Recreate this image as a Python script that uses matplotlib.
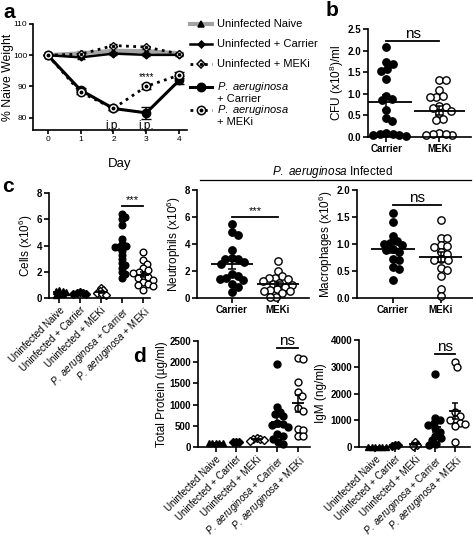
import numpy as np
import matplotlib
matplotlib.use("Agg")
import matplotlib.pyplot as plt
from matplotlib.lines import Line2D

plt.rcParams['font.family'] = ['Liberation Sans', 'DejaVu Sans']
plt.rcParams['mathtext.fontset'] = 'custom'
plt.rcParams['mathtext.rm'] = 'Liberation Sans'
plt.rcParams['mathtext.it'] = 'Liberation Sans:italic'
plt.rcParams['mathtext.bf'] = 'Liberation Sans:bold'

# ---- panel a: weight over time
days = [0, 1, 2, 3, 4]
naive_w = [100, 100.6, 101.4, 101.3, 100.6]
naive_err = [0, 0.9, 0.5, 0.5, 0.3]
carrier_w = [100, 99.3, 100.5, 100.1, 100.1]
carrier_err = [0, 0.5, 0.5, 0.5, 0.3]
meki_w = [100, 100.3, 103.1, 102.6, 100.4]
meki_err = [0, 0.3, 0.5, 0.5, 0.3]
pa_carrier_w = [100, 88.8, 82.9, 81.5, 91.9]
pa_carrier_err = [0, 0.6, 0.5, 1.9, 1.3]
pa_meki_w = [100, 88.1, 82.9, 90.0, 93.6]
pa_meki_err = [0, 0.6, 0.5, 0.9, 1.0]
legend_labels = ["Uninfected Naive", "Uninfected + Carrier", "Uninfected + MEKi",
                 ["$\\it{P.\\ aeruginosa}$", "+ Carrier"],
                 ["$\\it{P.\\ aeruginosa}$", "+ MEKi"]]

# ---- panel b: CFU
cfu_carrier = [2.08, 1.73, 1.68, 1.58, 1.52, 1.35, 0.96, 0.88, 0.85, 0.62, 0.45, 0.37,
               0.1, 0.06, 0.05, 0.04, 0.08, 0.03]
cfu_meki = [1.32, 1.32, 1.08, 0.93, 0.93, 0.95, 0.72, 0.7, 0.68, 0.6, 0.55, 0.42, 0.4,
            0.1, 0.06, 0.05, 0.05, 0.08]

# ---- panel c
cells_naive = [0.62, 0.55, 0.5, 0.45, 0.35, 0.3, 0.2]
cells_carrier = [0.45, 0.4, 0.35, 0.3, 0.3]
cells_meki = [0.8, 0.62, 0.5, 0.4, 0.3, 0.25]
cells_pa_carrier = [6.4, 6.2, 6.0, 5.6, 4.5, 4.1, 4.0, 3.9, 3.9, 3.6, 3.3, 3.0, 2.7, 2.5,
                    2.3, 2.0, 1.8, 1.5]
cells_pa_meki = [3.5, 2.9, 2.6, 2.3, 2.1, 2.0, 1.9, 1.7, 1.6, 1.5, 1.4, 1.2, 1.1, 1.0,
                 0.9, 0.6]
neut_carrier = [5.45, 4.9, 4.65, 3.55, 2.95, 2.9, 2.9, 2.65, 2.55, 1.75, 1.65, 1.45, 1.4,
                1.3, 1.05, 0.8, 0.45]
neut_meki = [2.75, 2.0, 1.6, 1.5, 1.45, 1.4, 1.25, 1.1, 1.05, 1.0, 0.8, 0.65, 0.6, 0.55,
             0.5, 0.35, 0.1, 0.05]
mac_carrier = [1.57, 1.4, 1.15, 1.05, 1.02, 1.0, 0.98, 0.9, 0.88, 0.85, 0.72, 0.7, 0.58,
               0.53, 0.34]
mac_meki = [1.45, 1.12, 1.12, 0.98, 0.97, 0.95, 0.85, 0.82, 0.72, 0.7, 0.7, 0.55, 0.52,
            0.4, 0.17, 0.03]

# ---- panel d
prot_naive = [100, 95, 90, 100, 105]
prot_carrier = [120, 118, 125]
prot_meki = [220, 200, 180, 160, 150]
prot_pa_carrier = [1960, 940, 830, 780, 720, 560, 540, 520, 470, 300, 250, 200, 120, 80]
prot_pa_meki = [2100, 2080, 1530, 1300, 1200, 920, 850, 430, 400, 270, 260]
igm_naive = [10, 5, 0, 8, 12, 3]
igm_carrier = [60, 50, 70]
igm_meki = [200, 80, 50]
igm_pa_carrier = [2720, 1100, 1000, 900, 820, 700, 560, 420, 350, 250, 120, 60]
igm_pa_meki = [3180, 2980, 1300, 1170, 1030, 1000, 900, 860, 800, 190]

group_labels = ["Uninfected Naive", "Uninfected + Carrier", "Uninfected + MEKi",
                r"$\it{P.\ aeruginosa}$ + Carrier", r"$\it{P.\ aeruginosa}$ + MEKi"]
pair_labels = ["Carrier", "MEKi"]

W, H = 473, 544
fig = plt.figure(figsize=(W / 100, H / 100), dpi=100)


def rect(x0, y0, x1, y1):
    return [x0 / W, 1 - y1 / H, (x1 - x0) / W, (y1 - y0) / H]


def prism(ax, bold=True):
    for s in ['top', 'right']:
        ax.spines[s].set_visible(False)
    for s in ['left', 'bottom']:
        ax.spines[s].set_linewidth(1.2)
    ax.tick_params(width=1.2, length=3.5, labelsize=7, pad=1.5)
    if bold:
        for t in ax.get_yticklabels():
            t.set_fontweight('bold')


def swarm(ax, x0, vals, d_px):
    vals = np.asarray(vals, float)
    pts = ax.transData.transform(np.column_stack([np.full(len(vals), x0), vals]))
    ys = pts[:, 1]
    xc = pts[0, 0]
    order = np.argsort(-vals)
    placed = []
    offs = np.zeros(len(vals))
    for i in order:
        best = None
        k = 0
        while best is None:
            cands = [0.0] if k == 0 else [k * 0.5, -k * 0.5]
            for s in cands:
                if all((s - px) ** 2 + (ys[i] - py) ** 2 >= d_px ** 2 for px, py in placed):
                    best = s
                    break
            k += 1
        placed.append((best, ys[i]))
        offs[i] = best
    back = ax.transData.inverted().transform(np.column_stack([xc + offs, ys]))
    return back[:, 0]


def group(ax, x0, vals, marker, filled, ms, d_px, half=0.27, cap=2.5):
    xs = swarm(ax, x0, vals, d_px)
    ax.plot(xs, vals, ls='none', marker=marker, ms=ms, mec='k', mew=1.0,
            mfc='k' if filled else 'white', zorder=2, clip_on=False)
    m = np.mean(vals)
    sem = np.std(vals, ddof=1) / np.sqrt(len(vals))
    ax.hlines(m, x0 - half, x0 + half, color='k', lw=1.3, zorder=3)
    ax.errorbar(x0, m, yerr=sem, fmt='none', ecolor='k', elinewidth=1.1,
                capsize=cap, capthick=1.1, zorder=3)


def sig(ax, x1, x2, y, text, dy, fs):
    ax.plot([x1, x2], [y, y], color='k', lw=1.3, clip_on=False)
    ax.text((x1 + x2) / 2, y + dy, text, ha='center', va='bottom', fontsize=fs)


# ================= a
ax = fig.add_axes(rect(33, 24, 187, 130))
ax.set_xlim(-0.45, 4.24)
ax.set_ylim(76, 110)
prism(ax, bold=False)
ax.set_yticks([80, 90, 100, 110])
ax.set_xticks(days)
ax.tick_params(labelsize=6, pad=1, length=3)
dotted = (0, (1, 1.6))
ax.errorbar(days, naive_w, yerr=naive_err, color='#a3a3a3', lw=3, capsize=3,
            ecolor='#555555', elinewidth=1, zorder=2)
ax.plot(days, naive_w, ls='none', marker='^', ms=5, color='k', zorder=3)
ax.errorbar(days, carrier_w, yerr=carrier_err, color='k', lw=1.8, capsize=3, zorder=3)
ax.plot(days, carrier_w, ls='none', marker='D', ms=3.5, color='k', zorder=4)
ax.errorbar(days, meki_w, yerr=meki_err, color='k', lw=2, ls=dotted, capsize=3, zorder=3)
ax.plot(days, meki_w, ls='none', marker='D', ms=4.5, mfc='white', mec='k', mew=1, zorder=4)
ax.plot(days, meki_w, ls='none', marker='o', ms=1.5, color='k', zorder=5)
ax.errorbar(days, pa_carrier_w, yerr=pa_carrier_err, color='k', lw=2.2, capsize=3.5,
            elinewidth=1.1, zorder=3)
ax.plot(days, pa_carrier_w, ls='none', marker='o', ms=6, color='k', zorder=4)
ax.errorbar(days, pa_meki_w, yerr=pa_meki_err, color='k', lw=2, ls=dotted,
            capsize=3.5, elinewidth=1.1, zorder=3)
ax.plot(days, pa_meki_w, ls='none', marker='o', ms=6, mfc='white', mec='k', mew=1.1,
        zorder=5)
ax.plot(days, pa_meki_w, ls='none', marker='o', ms=1.8, color='k', zorder=6)
ax.text(3, 92.9, "****", ha='center', va='center', fontsize=7)
for d in [2, 3]:
    ax.text(d, 77.4, "i.p.", ha='center', va='center', fontsize=8.5)
ax.set_ylabel("% Naive Weight", fontsize=8.8)
ax.yaxis.set_label_coords(-0.122, 0.5)
ax.set_xlabel("Day", fontsize=9.5)
ax.xaxis.set_label_coords(0.56, -0.26)

# legend for a, drawn by hand so markers sit on the first text line
leg_styles = [
    dict(color='#a3a3a3', lw=3, ls='-', marker='^', ms=5, mfc='k', dot=None),
    dict(color='k', lw=1.8, ls='-', marker='D', ms=3.5, mfc='k', dot=None),
    dict(color='k', lw=2, ls=dotted, marker='D', ms=4.5, mfc='white', dot=1.5),
    dict(color='k', lw=2.2, ls='-', marker='o', ms=6, mfc='k', dot=None),
    dict(color='k', lw=2, ls=dotted, marker='o', ms=6, mfc='white', dot=1.8),
]
leg_rows = [24, 44, 64, 87, 110]
for lab, st, yy in zip(legend_labels, leg_styles, leg_rows):
    fy = 1 - yy / H
    fig.add_artist(Line2D([190 / W, 212 / W], [fy, fy], color=st['color'], lw=st['lw'],
                          ls=st['ls']))
    fig.add_artist(Line2D([201 / W], [fy], ls='none', marker=st['marker'], ms=st['ms'],
                          mfc=st['mfc'], mec='k', mew=1.1))
    if st['dot']:
        fig.add_artist(Line2D([201 / W], [fy], ls='none', marker='o', ms=st['dot'],
                              color='k'))
    lines = lab if isinstance(lab, list) else [lab]
    for j, ln in enumerate(lines):
        fig.text(217 / W, 1 - (yy + 12 * j) / H, ln, fontsize=8, va='center', ha='left')

# ================= b
ax = fig.add_axes(rect(368, 29, 471, 137))
ax.set_xlim(-0.35, 1.6)
ax.set_ylim(0, 2.5)
ax.set_yticks([0, 0.5, 1.0, 1.5, 2.0, 2.5])
ax.set_yticklabels(["0.0", "0.5", "1.0", "1.5", "2.0", "2.5"])
ax.set_xticks([0, 1])
ax.set_xticklabels(pair_labels, fontweight='bold', fontsize=8)
prism(ax)
group(ax, 0, cfu_carrier, 'o', True, 5.3, 6.5, half=0.48, cap=3)
group(ax, 1, cfu_meki, 'o', False, 5.3, 6.5, half=0.48, cap=3)
sig(ax, 0, 1, 2.22, "ns", 0.0, 11)
ax.set_ylabel("CFU (x10$^{8}$)/ml", fontsize=8.5)
ax.yaxis.set_label_coords(-0.21, 0.5)

# ================= c
fig.text(332 / W, 1 - 172 / H, r"$\it{P.\ aeruginosa}$ Infected", ha='center',
         va='center', fontsize=8.5)
fig.add_artist(Line2D([200 / W, 471 / W], [1 - 180 / H, 1 - 180 / H], color='k', lw=0.9))

ax = fig.add_axes(rect(49, 193, 150, 298))
ax.set_xlim(-0.48, 4.35)
ax.set_ylim(0, 8)
ax.set_yticks([0, 2, 4, 6, 8])
ax.set_xticks(range(5))
ax.set_xticklabels(group_labels, rotation=45, ha='right', rotation_mode='anchor',
                   fontsize=7.5)
prism(ax)
group(ax, 0, cells_naive, '^', True, 4.5, 3.2, half=0.3)
group(ax, 1, cells_carrier, 'D', True, 3.8, 3.2, half=0.3)
group(ax, 2, cells_meki, 'D', False, 4.2, 3.2, half=0.3)
group(ax, 3, cells_pa_carrier, 'o', True, 4.8, 3.8, half=0.3)
group(ax, 4, cells_pa_meki, 'o', False, 4.8, 5.5, half=0.3)
sig(ax, 3, 4, 7.0, "***", 0.05, 8)
ax.set_ylabel("Cells (x10$^{6}$)", fontsize=8.5)
ax.yaxis.set_label_coords(-0.14, 0.5)

ax = fig.add_axes(rect(197, 190, 309, 298))
ax.set_xlim(-0.75, 1.67)
ax.set_ylim(0, 8)
ax.set_yticks([0, 2, 4, 6, 8])
ax.set_xticks([0, 1])
ax.set_xticklabels(pair_labels, fontweight='bold', fontsize=8)
prism(ax)
group(ax, 0, neut_carrier, 'o', True, 5.3, 6.5, half=0.45, cap=3)
group(ax, 1, neut_meki, 'o', False, 5.3, 6.5, half=0.45, cap=3)
sig(ax, 0, 1, 6.0, "***", 0.05, 8)
ax.set_ylabel("Neutrophils (x10$^{6}$)", fontsize=8.5)
ax.yaxis.set_label_coords(-0.125, 0.5)

ax = fig.add_axes(rect(357, 190, 473, 298))
ax.set_xlim(-0.75, 1.67)
ax.set_ylim(0, 2)
ax.set_yticks([0, 0.5, 1.0, 1.5, 2.0])
ax.set_yticklabels(["0.0", "0.5", "1.0", "1.5", "2.0"])
ax.set_xticks([0, 1])
ax.set_xticklabels(pair_labels, fontweight='bold', fontsize=8)
prism(ax)
group(ax, 0, mac_carrier, 'o', True, 5.3, 6.5, half=0.45, cap=3)
group(ax, 1, mac_meki, 'o', False, 5.3, 6.5, half=0.45, cap=3)
sig(ax, 0, 1, 1.72, "ns", 0.0, 11)
ax.set_ylabel("Macrophages (x10$^{6}$)", fontsize=8.5)
ax.yaxis.set_label_coords(-0.19, 0.5)

# ================= d
ax = fig.add_axes(rect(198, 341, 310, 447))
ax.set_xlim(-0.88, 4.6)
ax.set_ylim(0, 2500)
ax.set_yticks(range(0, 2501, 500))
ax.set_xticks(range(5))
ax.set_xticklabels(group_labels, rotation=45, ha='right', rotation_mode='anchor',
                   fontsize=7.5)
prism(ax)
group(ax, 0, prot_naive, '^', True, 4.5, 3.5, half=0.3)
group(ax, 1, prot_carrier, 'D', True, 3.8, 3.0, half=0.3)
group(ax, 2, prot_meki, 'D', False, 4.2, 3.5, half=0.3)
group(ax, 3, prot_pa_carrier, 'o', True, 5.0, 5.5, half=0.3)
group(ax, 4, prot_pa_meki, 'o', False, 5.0, 5.5, half=0.3)
sig(ax, 3, 4, 2330, "ns", 0, 11)
ax.set_ylabel("Total Protein (µg/ml)", fontsize=8.5)
ax.yaxis.set_label_coords(-0.27, 0.5)

ax = fig.add_axes(rect(359, 340, 470, 447))
ax.set_xlim(-0.8, 4.75)
ax.set_ylim(0, 4000)
ax.set_yticks(range(0, 4001, 1000))
ax.set_xticks(range(5))
ax.set_xticklabels(group_labels, rotation=45, ha='right', rotation_mode='anchor',
                   fontsize=7.5)
prism(ax)
group(ax, 0, igm_naive, '^', True, 4.5, 3.5, half=0.3)
group(ax, 1, igm_carrier, 'D', True, 3.8, 3.0, half=0.3)
group(ax, 2, igm_meki, 'D', False, 4.2, 3.5, half=0.3)
group(ax, 3, igm_pa_carrier, 'o', True, 5.0, 5.5, half=0.3)
group(ax, 4, igm_pa_meki, 'o', False, 5.0, 5.5, half=0.3)
sig(ax, 3, 4, 3480, "ns", 0, 11)
ax.set_ylabel("IgM (ng/ml)", fontsize=8.5)
ax.yaxis.set_label_coords(-0.29, 0.5)

# panel letters
for lt, x, y in [("a", 3, 12), ("b", 326, 10), ("c", 2, 186), ("d", 133, 356)]:
    fig.text(x / W, 1 - y / H, lt, fontsize=15, fontweight='bold', va='center')

fig.savefig("out.png", dpi=100)
